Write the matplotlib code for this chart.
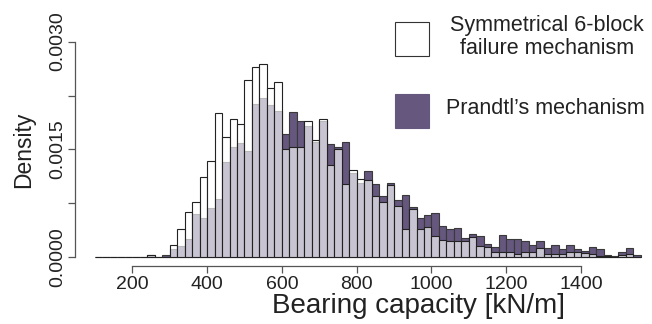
import matplotlib.pyplot as plt
from matplotlib.patches import Rectangle

plt.rcParams['font.family'] = ['Liberation Sans', 'DejaVu Sans']

# histogram bins (left edges, width 20 kN/m)
bin_start = 100
bin_width = 20

# density of the symmetrical 6-block failure mechanism
sym_density = [
    0, 0, 0, 0, 0, 0, 0,
    0.00003, 0.0, 0.0, 0.00017, 0.00040, 0.00063, 0.00077, 0.00112,
    0.00134, 0.00200, 0.00167, 0.00192, 0.00186, 0.00247, 0.00264, 0.00269,
    0.00236, 0.00244, 0.00150, 0.00154, 0.00154, 0.00189, 0.00163, 0.00192,
    0.00129, 0.00150, 0.00102, 0.00122, 0.00109, 0.00107, 0.00085, 0.00077,
    0.00100, 0.00071, 0.00040, 0.00067, 0.00039, 0.00042, 0.00030, 0.00024,
    0.00022, 0.00022, 0.00023, 0.00028, 0.00016, 0.00015, 0.00007, 0.00007,
    0.00008, 0.00005, 0.00007, 0.00007, 0.00013, 0.00004, 0.00004, 0.00005,
    0.00007, 0.00007, 0.00006, 0.00004, 0.00002, 0.00002, 0.00001, 0.00003,
    0.00005, 0.00001,
]

# density of Prandtl's mechanism
prandtl_density = [
    0, 0, 0, 0, 0, 0, 0,
    0.00003, 0.0, 0.00003, 0.00011, 0.00016, 0.00025, 0.00060, 0.00054,
    0.00069, 0.00081, 0.00132, 0.00153, 0.00159, 0.00148, 0.00213, 0.00222,
    0.00212, 0.00203, 0.00171, 0.00202, 0.00190, 0.00183, 0.00161, 0.00189,
    0.00157, 0.00154, 0.00160, 0.00117, 0.00104, 0.00120, 0.00102, 0.00085,
    0.00104, 0.00080, 0.00086, 0.00070, 0.00055, 0.00059, 0.00062, 0.00043,
    0.00040, 0.00041, 0.00027, 0.00033, 0.00030, 0.00018, 0.00015, 0.00031,
    0.00025, 0.00025, 0.00023, 0.00017, 0.00022, 0.00013, 0.00017, 0.00012,
    0.00017, 0.00011, 0.00009, 0.00014, 0.00012, 0.00003, 0.00002, 0.00008,
    0.00013, 0.00003,
]

x_ticks = [200, 400, 600, 800, 1000, 1200, 1400]
y_ticks = [0.0, 0.00075, 0.0015, 0.00225, 0.0030]
y_tick_labels = ['0.0000', '', '0.0015', '', '0.0030']

purple = '#65577d'
axis_grey = '#555555'
text_col = '#222222'

edges = [bin_start + i * bin_width for i in range(len(sym_density))]

fig = plt.figure(figsize=(6.52, 3.24), dpi=100)
W, H = 652, 324
ax = fig.add_axes([87 / W, (H - 266) / H, 561 / W, 246 / H])

ax.bar(edges, prandtl_density, width=bin_width, align='edge',
       facecolor=purple, edgecolor='#3a3a3a', linewidth=0.8)
ax.bar(edges, sym_density, width=bin_width, align='edge',
       facecolor=(1, 1, 1, 0.65), edgecolor='#222222', linewidth=0.8)

ax.set_xlim(78.9, 1578.9)
ax.set_ylim(-0.000121, 0.0033)

for s in ['top', 'right']:
    ax.spines[s].set_visible(False)
ax.spines['left'].set_position(('data', 46.8))
ax.spines['left'].set_bounds(0, 0.003)
ax.spines['bottom'].set_bounds(200, 1400)
for s in ['left', 'bottom']:
    ax.spines[s].set_color(axis_grey)
    ax.spines[s].set_linewidth(0.9)

ax.set_xticks(x_ticks)
ax.set_xticklabels([str(v) for v in x_ticks])
ax.set_yticks(y_ticks)
ax.set_yticklabels(y_tick_labels, rotation=90, va='center')
ax.tick_params(axis='both', colors=axis_grey, labelcolor=text_col,
               labelsize=14, length=5, width=0.9)
ax.tick_params(axis='y', pad=1)
ax.tick_params(axis='x', pad=2)

ax.set_xlabel('Bearing capacity [kN/m]', fontsize=20, color=text_col)
ax.xaxis.set_label_coords((418 - 87) / 561, (266 - 293) / 246)
ax.set_ylabel('Density', fontsize=16.5, color=text_col)
ax.yaxis.set_label_coords((35 - 87) / 561, (266 - 150) / 246)

# legend
fig.add_artist(Rectangle((395 / W, (H - 56) / H), 34 / W, 34 / H,
                         transform=fig.transFigure, facecolor='white',
                         edgecolor='#333333', linewidth=0.8))
fig.add_artist(Rectangle((395 / W, (H - 128) / H), 34 / W, 34 / H,
                         transform=fig.transFigure, facecolor=purple,
                         edgecolor=purple, linewidth=0.8))
fig.text(547 / W, (H - 37) / H, 'Symmetrical 6-block\nfailure mechanism',
         ha='center', va='center', fontsize=15.5, color=text_col,
         linespacing=1.1)
fig.text(446 / W, (H - 108) / H, "Prandtl\u2019s mechanism",
         ha='left', va='center', fontsize=15.5, color=text_col)

fig.savefig('out.png', dpi=100)
